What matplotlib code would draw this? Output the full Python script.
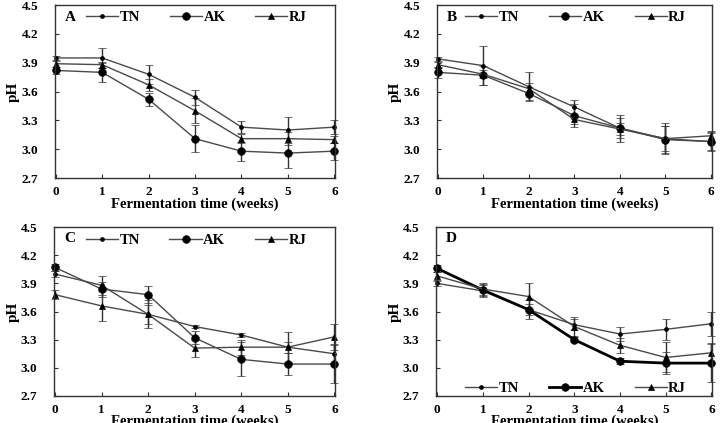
import matplotlib
matplotlib.use('Agg')
import matplotlib.pyplot as plt
from matplotlib.lines import Line2D

weeks = [0, 1, 2, 3, 4, 5, 6]
series_names = ['TN', 'AK', 'RJ']
panel_letters = ['A', 'B', 'C', 'D']

# panel A
a_tn = [3.95, 3.95, 3.78, 3.54, 3.23, 3.20, 3.23]
a_ak = [3.82, 3.80, 3.52, 3.11, 2.98, 2.96, 2.98]
a_rj = [3.89, 3.88, 3.67, 3.40, 3.11, 3.11, 3.10]
a_tn_err = [0.02, 0.10, 0.10, 0.08, 0.06, 0.14, 0.07]
a_ak_err = [0.04, 0.10, 0.07, 0.14, 0.10, 0.16, 0.09]
a_rj_err = [0.03, 0.03, 0.06, 0.13, 0.05, 0.07, 0.04]

# panel B
b_tn = [3.94, 3.87, 3.65, 3.44, 3.22, 3.11, 3.08]
b_ak = [3.80, 3.77, 3.58, 3.35, 3.22, 3.10, 3.08]
b_rj = [3.88, 3.78, 3.63, 3.31, 3.21, 3.11, 3.14]
b_tn_err = [0.02, 0.20, 0.15, 0.07, 0.10, 0.16, 0.10]
b_ak_err = [0.06, 0.10, 0.07, 0.12, 0.14, 0.14, 0.09]
b_rj_err = [0.03, 0.04, 0.06, 0.05, 0.06, 0.13, 0.05]

# panel C
c_tn = [4.00, 3.88, 3.57, 3.44, 3.35, 3.22, 3.15]
c_ak = [4.07, 3.84, 3.78, 3.32, 3.09, 3.04, 3.04]
c_rj = [3.78, 3.66, 3.57, 3.21, 3.22, 3.22, 3.33]
c_tn_err = [0.03, 0.10, 0.15, 0.02, 0.02, 0.16, 0.10]
c_ak_err = [0.04, 0.08, 0.09, 0.07, 0.18, 0.12, 0.20]
c_rj_err = [0.05, 0.16, 0.10, 0.09, 0.08, 0.06, 0.14]

# panel D
d_tn = [3.90, 3.82, 3.62, 3.46, 3.36, 3.41, 3.47]
d_ak = [4.06, 3.83, 3.62, 3.30, 3.07, 3.05, 3.05]
d_rj = [3.98, 3.84, 3.76, 3.44, 3.24, 3.11, 3.16]
d_tn_err = [0.03, 0.06, 0.10, 0.06, 0.07, 0.11, 0.13]
d_ak_err = [0.04, 0.06, 0.06, 0.03, 0.03, 0.12, 0.20]
d_rj_err = [0.04, 0.06, 0.14, 0.10, 0.08, 0.16, 0.10]

panels = [
    (a_tn, a_ak, a_rj, a_tn_err, a_ak_err, a_rj_err),
    (b_tn, b_ak, b_rj, b_tn_err, b_ak_err, b_rj_err),
    (c_tn, c_ak, c_rj, c_tn_err, c_ak_err, c_rj_err),
    (d_tn, d_ak, d_rj, d_tn_err, d_ak_err, d_rj_err),
]

positions = [
    [0.076, 0.579, 0.389, 0.409],
    [0.606, 0.579, 0.381, 0.409],
    [0.075, 0.064, 0.390, 0.399],
    [0.605, 0.064, 0.383, 0.399],
]

plt.rcParams['font.family'] = ['Liberation Serif', 'DejaVu Serif']
plt.rcParams['font.weight'] = 'bold'

fig = plt.figure(figsize=(7.21, 4.23), dpi=100)
line_col = '#4a4a4a'

for i, (tn, ak, rj, tn_e, ak_e, rj_e) in enumerate(panels):
    ax = fig.add_axes(positions[i])
    ak_lw = 2.0 if i == 3 else 1.0
    ak_col = 'black' if i == 3 else line_col
    styles = [
        (tn, tn_e, 'o', 2.8, 1.0, line_col),
        (ak, ak_e, 'o', 5.5, ak_lw, ak_col),
        (rj, rj_e, '^', 3.8, 1.0, line_col),
    ]
    handles = []
    for name, (vals, errs, mk, ms, lw, col) in zip(series_names, styles):
        ax.errorbar(weeks, vals, yerr=errs, color=col, lw=lw, marker=mk,
                    ms=ms, mfc='black', mec='black', mew=0.5, ecolor='#333333',
                    elinewidth=1.0, capsize=3, capthick=1.0, clip_on=False)
        handles.append(Line2D([], [], color=col, lw=lw, marker=mk, ms=ms,
                              mfc='black', mec='black', mew=0.5, label=name))
    ax.set_xlim(-0.02, 6.02)
    ax.set_ylim(2.7, 4.5)
    ax.set_xticks(weeks)
    ax.set_yticks([2.7, 3.0, 3.3, 3.6, 3.9, 4.2, 4.5])
    ax.set_yticklabels(['2.7', '3.0', '3.3', '3.6', '3.9', '4.2', '4.5'])
    ax.tick_params(direction='in', length=3, labelsize=9.5, color='#333333')
    ax.tick_params(axis='x', pad=6)
    ax.tick_params(axis='y', pad=12)
    for lab in ax.get_xticklabels() + ax.get_yticklabels():
        lab.set_fontweight('bold')
    for sp in ax.spines.values():
        sp.set_color('#333333')
        sp.set_linewidth(1.0)
    ax.set_xlabel('Fermentation time (weeks)', fontsize=10.5, fontweight='bold',
                  labelpad=-1)
    ax.set_ylabel('pH', fontsize=11, fontweight='bold', labelpad=1)
    ax.text(0.035, 0.93, panel_letters[i], transform=ax.transAxes,
            fontsize=11, fontweight='bold', va='center', ha='left')
    if i == 3:
        leg_loc = 'lower center'
        anchor = (0.505, -0.07)
    else:
        leg_loc = 'upper center'
        anchor = (0.505, 1.04)
    ax.legend(handles=handles, loc=leg_loc, bbox_to_anchor=anchor, ncol=3,
              frameon=False, handlelength=2.2, columnspacing=2.05,
              handletextpad=0.1, prop={'size': 10.5, 'weight': 'bold'})

fig.savefig('out.png', dpi=100)
